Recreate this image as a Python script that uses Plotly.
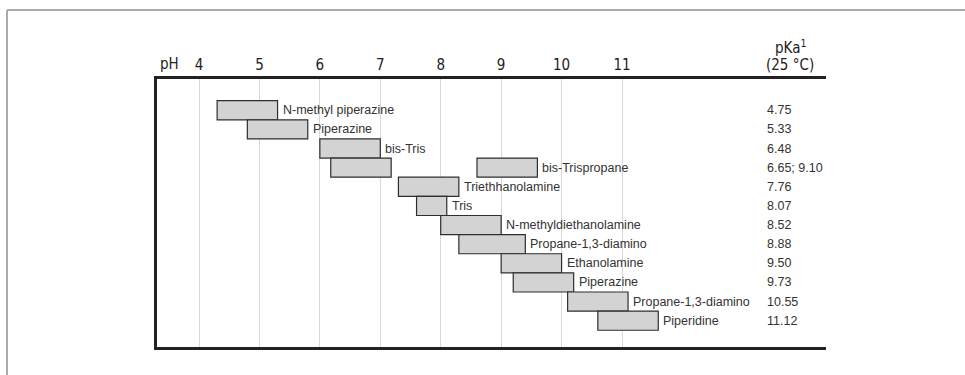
import plotly.graph_objects as go

# Buffer substances, one per row (top to bottom)
buffers = ["N-methyl piperazine", "Piperazine", "bis-Tris", "bis-Trispropane",
           "Triethhanolamine", "Tris", "N-methyldiethanolamine", "Propane-1,3-diamino",
           "Ethanolamine", "Piperazine", "Propane-1,3-diamino", "Piperidine"]
pka_text = ["4.75", "5.33", "6.48", "6.65; 9.10", "7.76", "8.07", "8.52", "8.88",
            "9.50", "9.73", "10.55", "11.12"]
# Useful buffering range (pH) for each row
range_low = [4.3, 4.8, 6.0, 6.18, 7.3, 7.6, 8.0, 8.3, 9.0, 9.2, 10.1, 10.6]
range_high = [5.3, 5.8, 7.0, 7.18, 8.3, 8.1, 9.0, 9.4, 10.0, 10.2, 11.1, 11.6]
# Second pKa range of bis-Trispropane (row 3)
second_row = [3]
second_low = [8.6]
second_high = [9.6]
ph_ticks = [4, 5, 6, 7, 8, 9, 10, 11]

rows = list(range(len(buffers)))
BODY = "Liberation Sans, Arial, sans-serif"
NARROW = "DejaVu Sans Condensed, Liberation Sans Narrow, Arial Narrow, Liberation Sans, sans-serif"

L, R, T, B = 157, 826, 79, 347  # plot-area pixel box
W, H = 965, 375


def px(x):
    return (x - L) / (R - L)


def py(y):
    return (B - y) / (B - T)


fig = go.Figure()
bar_style = dict(color="#d3d3d3", line=dict(color="#2e2e2e", width=1.2))
fig.add_trace(go.Bar(orientation="h", y=rows,
                     x=[h - l for l, h in zip(range_low, range_high)],
                     base=range_low, width=1, marker=bar_style, hoverinfo="skip"))
fig.add_trace(go.Bar(orientation="h", y=second_row,
                     x=[h - l for l, h in zip(second_low, second_high)],
                     base=second_low, width=1, marker=bar_style, hoverinfo="skip"))

ann = []
for i, name in enumerate(buffers):
    xr = range_high[i]
    if i in second_row:
        xr = second_high[second_row.index(i)]
    ann.append(dict(x=xr, y=i, xref="x", yref="y", text=name, showarrow=False,
                    xanchor="left", xshift=3, font=dict(size=12.5, color="#333", family=BODY)))
    ann.append(dict(x=px(765), y=i, xref="paper", yref="y", text=pka_text[i], showarrow=False,
                    xanchor="left", font=dict(size=12.5, color="#333", family=BODY)))

head_font = dict(size=15, color="#222", family=NARROW)
ann.append(dict(x=px(169), y=py(64), xref="paper", yref="paper", text="pH", showarrow=False,
                xanchor="center", yanchor="middle", font=head_font))
ann.append(dict(x=px(790), y=py(47), xref="paper", yref="paper", text="pKa<sup>1</sup>",
                showarrow=False, xanchor="center", yanchor="middle", font=head_font))
ann.append(dict(x=px(790), y=py(65), xref="paper", yref="paper", text="(25 °C)",
                showarrow=False, xanchor="center", yanchor="middle", font=head_font))

shapes = [
    dict(type="line", xref="paper", yref="paper", x0=px(7), x1=px(W), y0=py(10), y1=py(10),
         line=dict(color="#aaaaaa", width=2)),
    dict(type="line", xref="paper", yref="paper", x0=px(7), x1=px(7), y0=py(10), y1=py(H),
         line=dict(color="#aaaaaa", width=2)),
]

x_lo = 4 + (L - 199) / 60.43
x_hi = 4 + (R - 199) / 60.43
y_top = (T - 100.7) / 19.13 - 0.5
y_bot = (B - 100.7) / 19.13 - 0.5

fig.update_layout(
    width=W, height=H, margin=dict(l=L, r=W - R, t=T, b=H - B, pad=0),
    paper_bgcolor="white", plot_bgcolor="white", showlegend=False,
    barmode="overlay", annotations=ann, shapes=shapes,
    xaxis=dict(range=[x_lo, x_hi], tickvals=ph_ticks, ticktext=[str(t) for t in ph_ticks],
               side="top", showgrid=True, gridcolor="#d8d8d8", gridwidth=1,
               showline=True, linecolor="#222", linewidth=3, mirror=True, zeroline=False,
               ticks="", ticklabelstandoff=0, tickfont=head_font),
    yaxis=dict(range=[y_bot, y_top], showgrid=False, showticklabels=False, zeroline=False,
               showline=True, linecolor="#222", linewidth=3, mirror=False),
)

fig.write_html("out.html")
